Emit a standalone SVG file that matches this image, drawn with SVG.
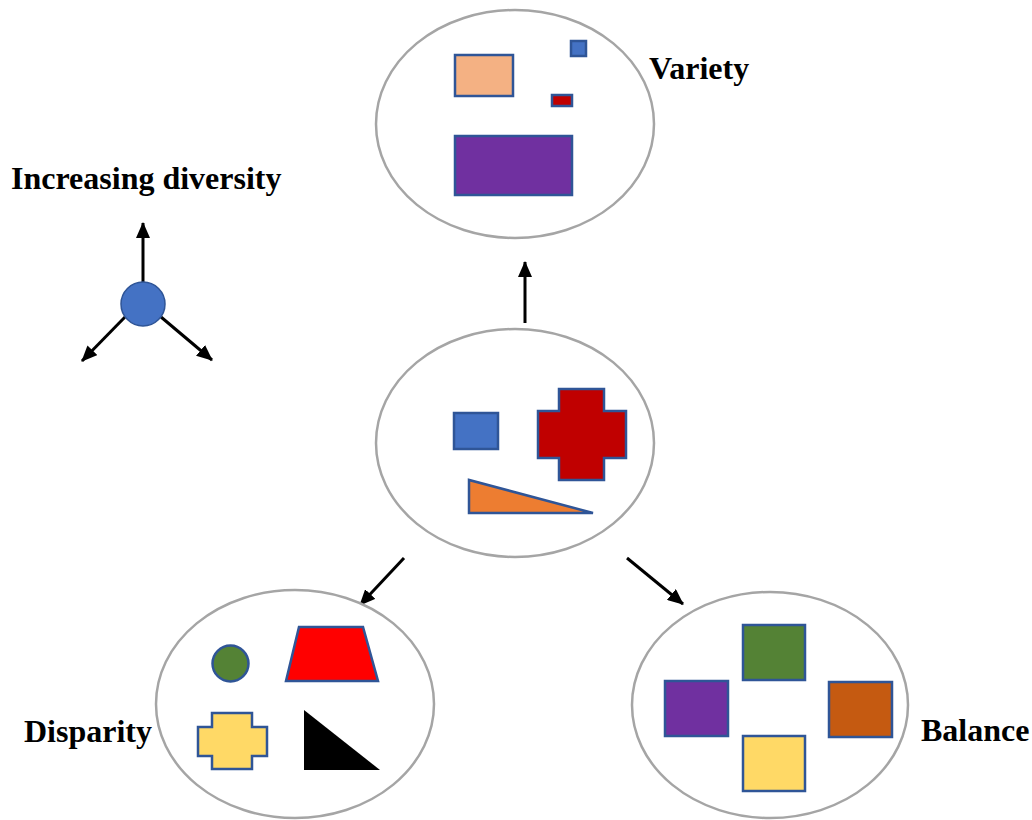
<svg xmlns="http://www.w3.org/2000/svg" width="1032" height="820" viewBox="0 0 1032 820">
<defs>
<marker id="ah" markerUnits="userSpaceOnUse" markerWidth="16" markerHeight="14" refX="15" refY="7" orient="auto">
<path d="M0,0 L16,7 L0,14 Z" fill="#000"/>
</marker>
<style>
.ell{fill:#fff;stroke:#A5A5A5;stroke-width:2.5}
.sh{stroke:#2F5597;stroke-width:2.5}
.lbl{font-family:"Liberation Serif","Times New Roman",serif;font-weight:bold;font-size:32px;fill:#000}
.con{stroke:#000;stroke-width:3;fill:none}
</style>
</defs>
<rect width="1032" height="820" fill="#fff"/>

<g id="legend">
<text class="lbl" x="11" y="189">Increasing diversity</text>
<line class="con" x1="143" y1="285" x2="143" y2="223" marker-end="url(#ah)"/>
<line class="con" x1="125" y1="317" x2="82" y2="361" marker-end="url(#ah)"/>
<line class="con" x1="161" y1="317" x2="212" y2="360" marker-end="url(#ah)"/>
<circle cx="143" cy="304" r="22" fill="#4472C4" stroke="#2F5597" stroke-width="1.5"/>
</g>

<g id="connectors">
<line class="con" x1="525" y1="323" x2="525" y2="262" marker-end="url(#ah)"/>
<line class="con" x1="404" y1="558" x2="360" y2="605" marker-end="url(#ah)"/>
<line class="con" x1="627" y1="558" x2="683" y2="604" marker-end="url(#ah)"/>
</g>

<g id="variety">
<ellipse class="ell" cx="515" cy="124" rx="139" ry="114"/>
<rect class="sh" x="455" y="55" width="58" height="41" fill="#F4B183"/>
<rect class="sh" x="571" y="41" width="15" height="15" fill="#4472C4"/>
<rect class="sh" x="552" y="95" width="20" height="11" fill="#C00000"/>
<rect class="sh" x="455" y="136" width="117" height="59" fill="#7030A0"/>
<text class="lbl" x="649" y="79">Variety</text>
</g>

<g id="center">
<ellipse class="ell" cx="515" cy="443" rx="139" ry="114"/>
<rect class="sh" x="454" y="413" width="44" height="36" fill="#4472C4"/>
<polygon class="sh" fill="#C00000" points="559,389 604,389 604,411 626,411 626,458 604,458 604,480 559,480 559,458 538,458 538,411 559,411"/>
<polygon class="sh" fill="#ED7D31" points="469,480 469,513 593,513"/>
</g>

<g id="disparity">
<ellipse class="ell" cx="295" cy="704" rx="139" ry="114"/>
<circle class="sh" cx="230.5" cy="663.5" r="18" fill="#548235"/>
<polygon class="sh" fill="#FF0000" points="299,627 363,627 378,681 286,681"/>
<polygon class="sh" fill="#FFD966" points="212,713 252,713 252,727 267,727 267,756 252,756 252,769 212,769 212,756 198,756 198,727 212,727"/>
<polygon fill="#000" points="304,710 304,770 380,770"/>
<text class="lbl" x="24" y="742">Disparity</text>
</g>

<g id="balance">
<ellipse class="ell" cx="770" cy="705" rx="138" ry="113"/>
<rect class="sh" x="743" y="625" width="62" height="55" fill="#548235"/>
<rect class="sh" x="665" y="681" width="63" height="55" fill="#7030A0"/>
<rect class="sh" x="829" y="682" width="63" height="55" fill="#C55A11"/>
<rect class="sh" x="743" y="736" width="62" height="55" fill="#FFD966"/>
<text class="lbl" x="921" y="741">Balance</text>
</g>
</svg>
